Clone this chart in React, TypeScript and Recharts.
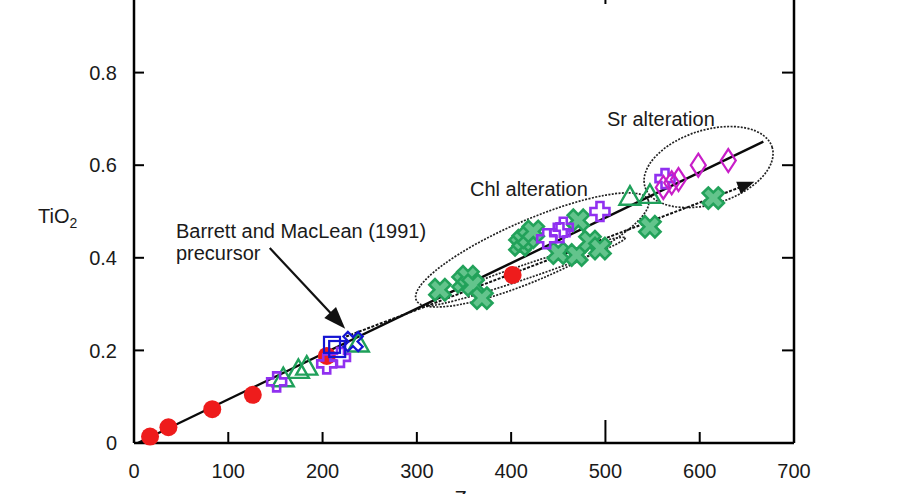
import React from 'react';
import { ScatterChart, Scatter, XAxis, YAxis, ReferenceLine, ReferenceDot } from 'recharts';

type P = [number, number];

const xTicks = [0, 100, 200, 300, 400, 500, 600, 700];
const yTicks = [0, 0.2, 0.4, 0.6, 0.8, 1.0];

const redCircles: P[] = [[17, 0.014], [36.5, 0.034], [83, 0.073], [126, 0.104], [204.5, 0.188], [401.6, 0.363]];
const purplePlus: P[] = [[151.3, 0.132], [204.4, 0.171], [219, 0.185], [437.7, 0.441], [451.8, 0.454], [455.3, 0.466], [494.2, 0.5], [563.2, 0.571]];
const greenX: P[] = [
  [324.5, 0.331], [349, 0.348], [354.2, 0.359], [359.5, 0.341], [369, 0.313],
  [409.4, 0.428], [412.9, 0.437], [418.2, 0.444], [423.5, 0.457], [471.2, 0.481],
  [450, 0.41], [469.5, 0.406], [483.6, 0.435], [494.2, 0.42],
  [547.2, 0.467], [614.4, 0.529],
];
const greenTriangles: P[] = [[158.3, 0.14], [174.3, 0.158], [183.2, 0.165], [237.9, 0.215], [526, 0.532], [547.2, 0.536]];
const blueSquares: P[] = [[210, 0.212], [215.5, 0.203]];
const blueX: P[] = [[232.3, 0.219]];
const magentaDiamonds: P[] = [[561.4, 0.552], [570.3, 0.562], [577.5, 0.569], [598.5, 0.6], [630.3, 0.61]];

const trendLine: P[] = [[4, 0], [667.5, 0.651]];
const alterationArrow: P[] = [[225, 0.23], [658, 0.564]];
const precursorArrow: P[] = [[144, 0.421], [224, 0.247]];
const chlEllipseAxis: P[] = [[299.3, 0.309], [545.3, 0.525]];
const srEllipseAxis: P[] = [[542, 0.553], [676.8, 0.639]];
const lowerEllipseAxis: P[] = [[311, 0.298], [521, 0.443]];

const chlLabel: P = [356.3, 0.533];
const srLabel: P = [501.6, 0.685];
const precursorLabel: P = [44.5, 0.443];

const FONT = "'Liberation Sans', Arial, Helvetica, sans-serif";
const TXT = '#1a1a1a';

const toPts = (a: P[]) => a.map(([x, y]) => ({ x, y }));

function plusPath(a: number, w: number) {
  return `M${-w},${-a}H${w}V${-w}H${a}V${w}H${w}V${a}H${-w}V${w}H${-a}V${-w}H${-w}Z`;
}

const RedCircle = (p: any) => <circle cx={p.cx} cy={p.cy} r={9} fill="#ee1c1c" />;
const PurplePlus = (p: any) => (
  <path d={plusPath(9.5, 3.5)} transform={`translate(${p.cx},${p.cy})`} fill="none" stroke="#9030f0" strokeWidth={2.6} />
);
const GreenX = (p: any) => (
  <path d={plusPath(11, 4)} transform={`translate(${p.cx},${p.cy}) rotate(45)`} fill="#63c48c" stroke="#22a25a" strokeWidth={2.6} />
);
const GreenTriangle = (p: any) => (
  <polygon points="0,-10.5 10.5,8 -10.5,8" transform={`translate(${p.cx},${p.cy})`} fill="none" stroke="#1fa05a" strokeWidth={2.4} />
);
const BlueSquare = (p: any) => (
  <rect x={p.cx - 8} y={p.cy - 8} width={16} height={16} fill="none" stroke="#1414d2" strokeWidth={2.2} />
);
const BlueXShape = (p: any) => (
  <path d={plusPath(10.5, 3.2)} transform={`translate(${p.cx},${p.cy}) rotate(45)`} fill="none" stroke="#1414d2" strokeWidth={2.2} />
);
const MagentaDiamond = (p: any) => (
  <polygon points="0,-11.5 7.5,0 0,11.5 -7.5,0" transform={`translate(${p.cx},${p.cy})`} fill="none" stroke="#c81ec8" strokeWidth={2.2} />
);
const NoShape = () => <g />;

const fmtY = (v: number) => (v === 0 ? '0' : v.toFixed(1));

const LeftTick = (p: any) => {
  const v = p.payload.value;
  return (
    <g>
      {v !== 0 && <line x1={p.x} x2={p.x + 10} y1={p.y} y2={p.y} stroke="#000" strokeWidth={2} />}
      {v < 1 && (
        <text x={p.x - 17} y={p.y} dy="0.36em" textAnchor="end" fontSize={20} fill={TXT} fontFamily={FONT}>{fmtY(v)}</text>
      )}
    </g>
  );
};
const RightTick = (p: any) => {
  const v = p.payload.value;
  if (v === 0) return <g />;
  return <line x1={p.x} x2={p.x - 12} y1={p.y} y2={p.y} stroke="#000" strokeWidth={2} />;
};
const BottomTick = (p: any) => {
  const v = p.payload.value;
  const len = v === 500 ? 23 : 11;
  return (
    <g>
      {v !== 0 && v !== 700 && <line x1={p.x} x2={p.x} y1={p.y} y2={p.y - len} stroke="#000" strokeWidth={2} />}
      <text x={p.x} y={p.y + 35} textAnchor="middle" fontSize={20} fill={TXT} fontFamily={FONT}>{v}</text>
    </g>
  );
};
const TopTick = (p: any) => {
  const v = p.payload.value;
  if (v === 0 || v === 700) return <g />;
  const len = v === 500 ? 24 : 11;
  return <line x1={p.x} x2={p.x} y1={p.y} y2={p.y + len} stroke="#000" strokeWidth={2} />;
};

const makeEllipse = (ry: number) => (p: any) => {
  const { x1, y1, x2, y2 } = p;
  const cx = (x1 + x2) / 2;
  const cy = (y1 + y2) / 2;
  const rx = Math.hypot(x2 - x1, y2 - y1) / 2;
  const ang = (Math.atan2(y2 - y1, x2 - x1) * 180) / Math.PI;
  return (
    <ellipse cx={cx} cy={cy} rx={rx} ry={ry} transform={`rotate(${ang} ${cx} ${cy})`}
      fill="none" stroke="#222" strokeWidth={1.7} strokeDasharray="2 1.4" />
  );
};

const makeArrow = (len: number, half: number, dash?: string, width = 2) => (p: any) => {
  const { x1, y1, x2, y2 } = p;
  const d = Math.hypot(x2 - x1, y2 - y1);
  const ux = (x2 - x1) / d;
  const uy = (y2 - y1) / d;
  const bx = x2 - ux * len;
  const by = y2 - uy * len;
  const px = -uy * half;
  const py = ux * half;
  return (
    <g>
      <line x1={x1} y1={y1} x2={bx + ux * 2} y2={by + uy * 2} stroke="#111" strokeWidth={width} strokeDasharray={dash} />
      <polygon points={`${x2},${y2} ${bx + px},${by + py} ${bx - px},${by - py}`} fill="#111" />
    </g>
  );
};

const SolidLine = (p: any) => <line x1={p.x1} y1={p.y1} x2={p.x2} y2={p.y2} stroke="#0a0a0a" strokeWidth={2.4} />;

const textShape = (lines: string[]) => (p: any) => (
  <text x={p.cx} y={p.cy} fontSize={20} fill={TXT} fontFamily={FONT}>
    {lines.map((l, i) => (
      <tspan key={i} x={p.cx} dy={i === 0 ? 0 : 22}>{l}</tspan>
    ))}
  </text>
);

const YTitle = () => (
  <text x={38} y={263} fontSize={20} fill={TXT} fontFamily={FONT}>
    TiO<tspan fontSize={14} dy={5}>2</tspan>
  </text>
);

export default function App() {
  return (
    <div style={{ position: 'absolute', left: 0, top: 0, width: 902, height: 494, overflow: 'hidden', background: '#fff' }}>
      <div style={{ position: 'absolute', left: 0, top: -40 }}>
        <ScatterChart width={902} height={560} margin={{ top: 19, right: 107, bottom: 47, left: 0 }}>
          <XAxis type="number" dataKey="x" domain={[0, 700]} ticks={xTicks} interval={0}
            axisLine={{ stroke: '#000', strokeWidth: 2.5 }} tickLine={false} tickSize={0} tickMargin={0}
            tick={BottomTick} height={30}
            label={{ value: 'Zr', position: 'insideBottom', offset: -32, fontSize: 20, fill: TXT, fontFamily: FONT }} />
          <XAxis xAxisId="t" orientation="top" type="number" dataKey="x" domain={[0, 700]} ticks={xTicks} interval={0}
            axisLine={{ stroke: '#000', strokeWidth: 2.5 }} tickLine={false} tickSize={0} tickMargin={0}
            tick={TopTick} height={1} />
          <YAxis type="number" dataKey="y" domain={[0, 1]} ticks={yTicks} interval={0}
            axisLine={{ stroke: '#000', strokeWidth: 2.5 }} tickLine={false} tickSize={0} tickMargin={0}
            tick={LeftTick} width={134}
            label={{ content: YTitle }} />
          <YAxis yAxisId="r" orientation="right" type="number" dataKey="y" domain={[0, 1]} ticks={yTicks} interval={0}
            axisLine={{ stroke: '#000', strokeWidth: 2.5 }} tickLine={false} tickSize={0} tickMargin={0}
            tick={RightTick} width={1} />

          <Scatter xAxisId="t" yAxisId="r" data={toPts(redCircles)} shape={NoShape} isAnimationActive={false} />

          <ReferenceLine segment={toPts(chlEllipseAxis)} shape={makeEllipse(30)} />
          <ReferenceLine segment={toPts(srEllipseAxis)} shape={makeEllipse(37)} />
          <ReferenceLine segment={toPts(lowerEllipseAxis)} shape={makeEllipse(7)} />

          <Scatter data={toPts(redCircles)} shape={RedCircle} isAnimationActive={false} />
          <Scatter data={toPts(greenTriangles)} shape={GreenTriangle} isAnimationActive={false} />
          <Scatter data={toPts(greenX)} shape={GreenX} isAnimationActive={false} />
          <Scatter data={toPts(purplePlus)} shape={PurplePlus} isAnimationActive={false} />
          <Scatter data={toPts(blueSquares)} shape={BlueSquare} isAnimationActive={false} />
          <Scatter data={toPts(blueX)} shape={BlueXShape} isAnimationActive={false} />
          <Scatter data={toPts(magentaDiamonds)} shape={MagentaDiamond} isAnimationActive={false} />

          <ReferenceLine segment={toPts(trendLine)} shape={SolidLine} />
          <ReferenceLine segment={toPts(alterationArrow)} shape={makeArrow(17, 6.5, '3 1.5', 2)} />
          <ReferenceLine segment={toPts(precursorArrow)} shape={makeArrow(22, 8, undefined, 2.2)} />

          <ReferenceDot x={chlLabel[0]} y={chlLabel[1]} r={0} shape={textShape(['Chl alteration'])} />
          <ReferenceDot x={srLabel[0]} y={srLabel[1]} r={0} shape={textShape(['Sr alteration'])} />
          <ReferenceDot x={precursorLabel[0]} y={precursorLabel[1]} r={0} shape={textShape(['Barrett and MacLean (1991)', 'precursor'])} />
        </ScatterChart>
      </div>
    </div>
  );
}
